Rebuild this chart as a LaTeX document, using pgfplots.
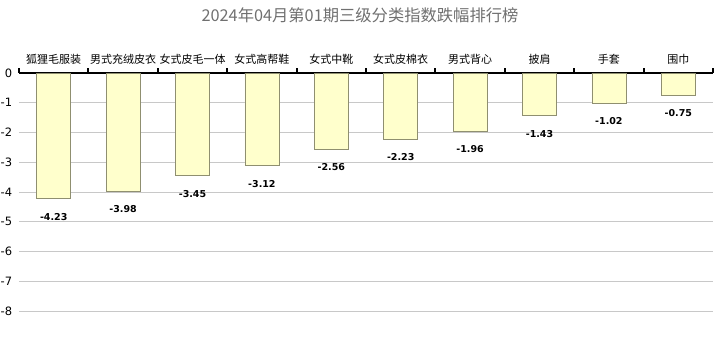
\documentclass[border=0pt]{standalone}
\usepackage{pgfplots}
\pgfplotsset{compat=1.18}
\usepackage{fontspec}
\setmainfont{DejaVu Sans}
\newfontfamily\cjk{Noto Sans CJK SC}
\definecolor{barfill}{HTML}{FFFFCC}
\definecolor{bardraw}{HTML}{8F8F70}
\definecolor{gridc}{HTML}{C8C8C8}
\definecolor{titlec}{HTML}{707070}
\begin{document}
\begin{tikzpicture}
\path[use as bounding box] (0,0) rectangle (717pt,-343pt);
\node[font=\cjk\fontsize{16.3}{18}\selectfont, text=titlec] at (360pt,-15pt) {2024年04月第01期三级分类指数跌幅排行榜};
\begin{axis}[
  at={(19pt,-73pt)}, anchor=north west,
  scale only axis, width=694pt, height=255.9pt,
  xmin=-0.5, xmax=9.5, ymin=-8.6, ymax=0,
  axis x line*=top, axis y line*=left,
  y axis line style={draw=none},
  x axis line style={black, line width=1.6pt},
  xtick={0,...,9},
  xticklabels={狐狸毛服装,男式充绒皮衣,女式皮毛一体,女式高帮鞋,女式中靴,女式皮棉衣,男式背心,披肩,手套,围巾},
  xticklabel style={font=\cjk\fontsize{11}{12}\selectfont, yshift=1pt},
  major x tick style={draw=none},
  minor xtick={-0.5,0.5,...,9.5},
  minor x tick style={black, line width=2pt},
  minor tick length=5pt,
  tick align=outside,
  ytick={-8,...,0},
  ytick style={draw=none},
  yticklabel style={font=\fontsize{11.5}{12}\selectfont, xshift=1pt},
  /pgf/number format/assume math mode=true,
  ymajorgrids, grid style={gridc, line width=1pt},
  clip=false,
]
\addplot[ybar, bar width=34pt, fill=barfill, draw=bardraw, line width=0.8pt,
  nodes near coords, point meta=explicit symbolic,
  every node near coord/.append style={anchor=center, yshift=-18pt, font=\bfseries\fontsize{9.5}{11}\selectfont, text=black}]
  table[meta=lab] {
x y lab
0 -4.23 -4.23
1 -3.98 -3.98
2 -3.45 -3.45
3 -3.12 -3.12
4 -2.56 -2.56
5 -2.23 -2.23
6 -1.96 -1.96
7 -1.43 -1.43
8 -1.02 -1.02
9 -0.75 -0.75
};
\end{axis}
\end{tikzpicture}
\end{document}
